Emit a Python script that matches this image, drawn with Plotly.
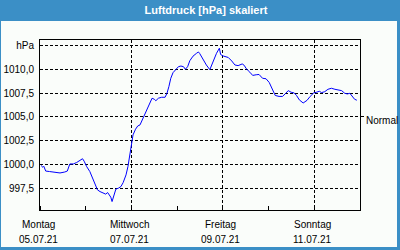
import plotly.graph_objects as go

# ---------------- data ----------------
times = [
    "2021-07-05 00:30", "2021-07-05 01:30", "2021-07-05 02:00", "2021-07-05 03:00", "2021-07-05 05:00",
    "2021-07-05 08:00", "2021-07-05 10:30", "2021-07-05 13:00", "2021-07-05 14:20", "2021-07-05 15:40",
    "2021-07-05 17:30", "2021-07-05 19:15", "2021-07-05 20:40", "2021-07-05 22:20", "2021-07-05 23:10",
    "2021-07-06 00:30", "2021-07-06 02:10", "2021-07-06 03:40", "2021-07-06 04:50", "2021-07-06 06:10",
    "2021-07-06 07:30", "2021-07-06 09:10", "2021-07-06 10:30", "2021-07-06 11:30", "2021-07-06 12:10",
    "2021-07-06 13:10", "2021-07-06 13:50", "2021-07-06 14:50", "2021-07-06 15:50", "2021-07-06 17:10",
    "2021-07-06 18:30", "2021-07-06 19:40", "2021-07-06 21:10", "2021-07-06 22:10", "2021-07-06 23:10",
    "2021-07-07 00:10", "2021-07-07 00:50", "2021-07-07 02:10", "2021-07-07 03:20", "2021-07-07 04:30",
    "2021-07-07 05:40", "2021-07-07 07:10", "2021-07-07 08:30", "2021-07-07 09:40", "2021-07-07 10:50",
    "2021-07-07 12:00", "2021-07-07 12:50", "2021-07-07 14:10", "2021-07-07 15:50", "2021-07-07 17:40",
    "2021-07-07 18:40", "2021-07-07 19:40", "2021-07-07 20:40", "2021-07-07 21:50", "2021-07-07 23:10",
    "2021-07-08 00:40", "2021-07-08 02:00", "2021-07-08 03:20", "2021-07-08 04:20", "2021-07-08 05:30",
    "2021-07-08 06:40", "2021-07-08 08:20", "2021-07-08 10:10", "2021-07-08 11:10", "2021-07-08 11:50",
    "2021-07-08 13:40", "2021-07-08 15:20", "2021-07-08 17:10", "2021-07-08 18:50", "2021-07-08 20:40",
    "2021-07-08 22:10", "2021-07-08 22:50", "2021-07-09 00:10", "2021-07-09 02:50", "2021-07-09 04:40",
    "2021-07-09 06:20", "2021-07-09 08:00", "2021-07-09 10:10", "2021-07-09 11:10", "2021-07-09 12:20",
    "2021-07-09 14:10", "2021-07-09 15:40", "2021-07-09 17:30", "2021-07-09 19:00", "2021-07-09 20:50",
    "2021-07-09 22:40", "2021-07-10 00:20", "2021-07-10 02:10", "2021-07-10 03:30", "2021-07-10 05:30",
    "2021-07-10 07:20", "2021-07-10 08:50", "2021-07-10 10:20", "2021-07-10 11:50", "2021-07-10 13:30",
    "2021-07-10 14:40", "2021-07-10 16:10", "2021-07-10 18:10", "2021-07-10 20:10", "2021-07-10 21:50",
    "2021-07-10 23:40", "2021-07-11 01:20", "2021-07-11 02:40", "2021-07-11 03:50", "2021-07-11 05:30",
    "2021-07-11 07:10", "2021-07-11 09:00", "2021-07-11 10:50", "2021-07-11 12:30", "2021-07-11 14:20",
    "2021-07-11 16:00", "2021-07-11 17:20", "2021-07-11 18:40", "2021-07-11 20:00", "2021-07-11 21:10",
    "2021-07-11 22:20",
]
pressure = [
    999.9, 999.7, 999.8, 999.3, 999.25,
    999.2, 999.1, 999.2, 999.3, 1000.05,
    1000.05, 1000.2, 1000.4, 1000.6, 1000.34,
    999.77, 999.25, 998.55, 997.95, 997.32,
    997.14, 996.97, 996.87, 997.04, 996.8,
    996.55, 996.09, 996.8, 997.4, 997.5,
    997.67, 998.09, 998.9, 999.77, 1000.95,
    1002.58, 1003.11, 1003.71, 1004.05, 1004.16,
    1004.68, 1005.39, 1006.08, 1006.61, 1006.97,
    1006.86, 1006.71, 1006.97, 1007.07, 1007.07,
    1007.49, 1008.19, 1009.07, 1009.66, 1009.94,
    1010.29, 1010.36, 1010.29, 1010.02, 1010.29,
    1010.92, 1011.4, 1011.7, 1011.84, 1011.68,
    1010.96, 1010.47, 1009.98, 1010.89, 1011.7,
    1012.23, 1011.57, 1011.42, 1011.26, 1010.89,
    1010.47, 1010.4, 1010.58, 1010.44, 1010.07,
    1009.71, 1009.37, 1009.44, 1009.47, 1009.07,
    1009.02, 1008.63, 1007.87, 1007.26, 1007.16,
    1007.16, 1007.45, 1007.77, 1007.6, 1007.52,
    1007.26, 1006.79, 1006.47, 1006.74, 1007.16,
    1007.52, 1007.61, 1007.7, 1007.56, 1007.66,
    1007.91, 1008.02, 1007.91, 1007.84, 1007.77,
    1007.49, 1007.42, 1007.49, 1007.14, 1006.86,
    1006.76,
]

y_tick_values = [997.5, 1000.0, 1002.5, 1005.0, 1007.5, 1010.0, 1012.5]
y_tick_labels = ["997,5", "1000,0", "1002,5", "1005,0", "1007,5", "1010,0", "hPa"]
x_label_dates = ["2021-07-05", "2021-07-07", "2021-07-09", "2021-07-11"]
x_label_weekdays = ["Montag", "Mittwoch", "Freitag", "Sonntag"]
x_label_datetexts = ["05.07.21", "07.07.21", "09.07.21", "11.07.21"]
normal_value = 1005.0
normal_label = "Normal"
x_range = ["2021-07-05 00:00", "2021-07-12 00:00"]
y_range = [995.2, 1013.1]
title_text = "Luftdruck [hPa] skaliert"

# ---------------- style ----------------
FONT = "Liberation Sans"
BLUE = "#3b8fc6"
BG = "#fafdfa"
W, H = 400, 250
ML, MR, MT, MB = 40, 40, 40, 40
PW, PH = W - ML - MR, H - MT - MB


def px_x(p):
    return (p - ML) / PW


def px_y(p):
    return (H - MB - p) / PH


fig = go.Figure()
fig.add_trace(go.Scatter(
    x=times, y=pressure, mode="lines",
    line=dict(color="#0000ff", width=1),
    hoverinfo="skip", showlegend=False,
))
# carrier trace so the right-hand "Normal" axis is drawn (draws nothing)
fig.add_trace(go.Scatter(
    x=[x_range[0]], y=[normal_value], yaxis="y2", mode="lines",
    line=dict(width=0), hoverinfo="skip", showlegend=False,
))

fig.update_layout(
    width=W, height=H,
    margin=dict(l=ML, r=MR, t=MT, b=MB, pad=0, autoexpand=False),
    paper_bgcolor=BLUE,
    plot_bgcolor=BG,
    showlegend=False,
    title=dict(
        text="<b>" + title_text + "</b>",
        font=dict(family=FONT, size=11, color="white"),
        x=206 / W, xanchor="center", xref="container",
        y=1 - 10 / H, yanchor="middle", yref="container",
    ),
    font=dict(family=FONT, size=10, color="black"),
    xaxis=dict(
        type="date", range=x_range, automargin=False,
        tickvals=x_label_dates, showticklabels=False,
        ticks="", showgrid=True, gridcolor="black", gridwidth=1, griddash="3px,2px",
        showline=True, linecolor="black", linewidth=1, mirror=True,
        zeroline=False,
        minor=dict(dtick=86400000, ticks="inside", ticklen=4, tickcolor="black", showgrid=False),
    ),
    yaxis=dict(
        range=y_range, tickvals=y_tick_values, ticktext=y_tick_labels, automargin=False,
        ticks="outside", ticklen=3, tickcolor="rgba(0,0,0,0)",
        showgrid=True, gridcolor="black", gridwidth=1, griddash="3px,2px",
        showline=True, linecolor="black", linewidth=1, mirror=True,
        zeroline=False, tickfont=dict(family=FONT, size=10, color="black"),
    ),
    yaxis2=dict(
        range=y_range, overlaying="y", side="right", automargin=False,
        tickvals=[normal_value], ticktext=[normal_label],
        ticks="outside", ticklen=3, tickcolor="black",
        ticklabelshift=4,
        showgrid=False, zeroline=False, showline=False,
        tickfont=dict(family=FONT, size=10, color="black"),
    ),
)

# window body inside the blue frame
fig.add_shape(
    type="rect", xref="paper", yref="paper", layer="below",
    x0=px_x(1), x1=px_x(397), y0=px_y(247), y1=px_y(21),
    fillcolor=BG, line=dict(width=0),
)

for d, wd, dt in zip(x_label_dates, x_label_weekdays, x_label_datetexts):
    fig.add_annotation(x=d, xref="x", y=0, yref="paper", text=wd, showarrow=False,
                       xanchor="center", yanchor="middle", yshift=-14, xshift=-2,
                       font=dict(family=FONT, size=10, color="black"))
    fig.add_annotation(x=d, xref="x", y=0, yref="paper", text=dt, showarrow=False,
                       xanchor="center", yanchor="middle", yshift=-29, xshift=-2,
                       font=dict(family=FONT, size=10, color="black"))

fig.write_html("out.html")
